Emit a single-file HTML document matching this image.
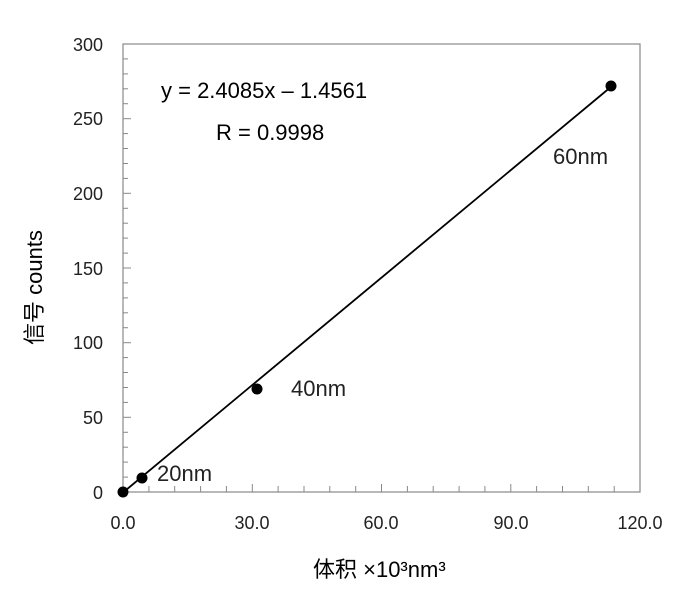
<!DOCTYPE html>
<html><head><style>body{margin:0;background:#fff}</style></head><body>
<svg width="687" height="601" xmlns="http://www.w3.org/2000/svg" font-family="Liberation Sans, Noto Sans CJK SC, sans-serif">
<rect width="687" height="601" fill="#fff"/>
<rect x="123" y="44" width="517" height="448" fill="none" stroke="#888" stroke-width="1.2"/>
<g stroke="#888" stroke-width="1">
<line x1="123" x2="131" y1="492" y2="492"/><line x1="123" x2="128" y1="477.1" y2="477.1"/><line x1="123" x2="128" y1="462.1" y2="462.1"/><line x1="123" x2="128" y1="447.2" y2="447.2"/><line x1="123" x2="128" y1="432.3" y2="432.3"/>
<line x1="123" x2="131" y1="417.3" y2="417.3"/><line x1="123" x2="128" y1="402.4" y2="402.4"/><line x1="123" x2="128" y1="387.5" y2="387.5"/><line x1="123" x2="128" y1="372.5" y2="372.5"/><line x1="123" x2="128" y1="357.6" y2="357.6"/>
<line x1="123" x2="131" y1="342.7" y2="342.7"/><line x1="123" x2="128" y1="327.7" y2="327.7"/><line x1="123" x2="128" y1="312.8" y2="312.8"/><line x1="123" x2="128" y1="297.9" y2="297.9"/><line x1="123" x2="128" y1="282.9" y2="282.9"/>
<line x1="123" x2="131" y1="268" y2="268"/><line x1="123" x2="128" y1="253.1" y2="253.1"/><line x1="123" x2="128" y1="238.1" y2="238.1"/><line x1="123" x2="128" y1="223.2" y2="223.2"/><line x1="123" x2="128" y1="208.3" y2="208.3"/>
<line x1="123" x2="131" y1="193.3" y2="193.3"/><line x1="123" x2="128" y1="178.4" y2="178.4"/><line x1="123" x2="128" y1="163.5" y2="163.5"/><line x1="123" x2="128" y1="148.5" y2="148.5"/><line x1="123" x2="128" y1="133.6" y2="133.6"/>
<line x1="123" x2="131" y1="118.7" y2="118.7"/><line x1="123" x2="128" y1="103.7" y2="103.7"/><line x1="123" x2="128" y1="88.8" y2="88.8"/><line x1="123" x2="128" y1="73.9" y2="73.9"/><line x1="123" x2="128" y1="58.9" y2="58.9"/>
<line x1="148.9" x2="148.9" y1="492" y2="486"/><line x1="174.7" x2="174.7" y1="492" y2="486"/><line x1="200.6" x2="200.6" y1="492" y2="486"/><line x1="226.4" x2="226.4" y1="492" y2="486"/><line x1="252.3" x2="252.3" y1="492" y2="484"/>
<line x1="278.1" x2="278.1" y1="492" y2="486"/><line x1="304" x2="304" y1="492" y2="486"/><line x1="329.8" x2="329.8" y1="492" y2="486"/><line x1="355.7" x2="355.7" y1="492" y2="486"/><line x1="381.5" x2="381.5" y1="492" y2="484"/>
<line x1="407.4" x2="407.4" y1="492" y2="486"/><line x1="433.2" x2="433.2" y1="492" y2="486"/><line x1="459.1" x2="459.1" y1="492" y2="486"/><line x1="484.9" x2="484.9" y1="492" y2="486"/><line x1="510.8" x2="510.8" y1="492" y2="484"/>
<line x1="536.6" x2="536.6" y1="492" y2="486"/><line x1="562.5" x2="562.5" y1="492" y2="486"/><line x1="588.3" x2="588.3" y1="492" y2="486"/><line x1="614.2" x2="614.2" y1="492" y2="486"/>
</g>
<g font-size="18" fill="#222" text-anchor="end">
<text x="103" y="499">0</text><text x="103" y="424">50</text><text x="103" y="349">100</text>
<text x="103" y="275">150</text><text x="103" y="200">200</text><text x="103" y="125">250</text><text x="103" y="51">300</text>
</g>
<g font-size="18" fill="#222" text-anchor="middle">
<text x="123" y="529">0.0</text><text x="252" y="529">30.0</text><text x="381" y="529">60.0</text>
<text x="511" y="529">90.0</text><text x="640" y="529">120.0</text>
</g>
<line x1="126" y1="490" x2="612" y2="86" stroke="#000" stroke-width="1.8"/>
<g fill="#000"><circle cx="123" cy="492" r="5.5"/><circle cx="142" cy="478" r="5.5"/><circle cx="257" cy="389" r="5.5"/><circle cx="611" cy="86" r="5.5"/></g>
<g font-size="22" fill="#222">
<text x="157" y="481">20nm</text><text x="291" y="396">40nm</text><text x="553" y="164">60nm</text>
<text x="161" y="98" fill="#000">y = 2.4085x – 1.4561</text>
<text x="216" y="140" fill="#000">R = 0.9998</text>
<text x="313" y="577" fill="#000">体积 ×10³nm³</text>
<text transform="translate(42,345) rotate(-90)" fill="#000">信号 counts</text>
</g>
</svg>
</body></html>
